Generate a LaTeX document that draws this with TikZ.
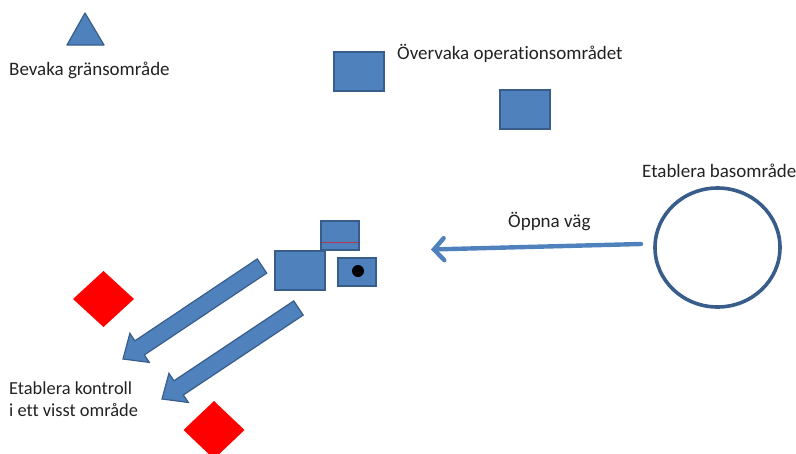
\documentclass[tikz,border=0pt]{standalone}
\usepackage{fontspec}
\setmainfont{Carlito}[Ligatures=NoCommon]
\usetikzlibrary{calc,arrows.meta}
\definecolor{ofill}{HTML}{4F81BD}
\definecolor{oline}{HTML}{385D8A}
\definecolor{ored}{HTML}{FF0000}
\definecolor{txt}{HTML}{222222}
\tikzset{
  bluebox/.style={draw=oline, fill=ofill, line width=1.2pt},
  lbl/.style={inner sep=0pt, font=\fontsize{19}{22}\selectfont, text=txt, align=left},
}
\begin{document}
\begin{tikzpicture}[x=1pt,y=-1pt]
\useasboundingbox (0,0) rectangle (796,453);
% triangle
\draw[bluebox, line join=round] (85,13) -- (67,45) -- (104,45) -- cycle;
\node (tri) at (85,35) {};
\node[lbl, anchor=base west] (bevaka) at (9,75) {Bevaka gränsområde};
% top boxes
\draw[bluebox] (334,52) rectangle (384,91);
\node (sq1) at (359,71.5) {};
\node[lbl, anchor=base west] (overvaka) at (397,59) {Övervaka operationsområdet};
\draw[bluebox] (500,90) rectangle (550,129);
\node (sq2) at (525,109.5) {};
% base circle
\draw[draw=oline, line width=3.6pt] (717.5,247.5) ellipse [x radius=62.5, y radius=59.5];
\coordinate (circ) at (717.5,247.5);
\node[lbl, anchor=base west] (etabas) at (642,177) {Etablera basområde};
% road arrow
\coordinate (roadS) at (641,244);
\coordinate (roadE) at (431,249.5);
\draw[draw=ofill, line width=4.4pt, line cap=round, -{Straight Barb[length=10pt, width=22pt, line cap=round]}] (roadS) -- (roadE);
\node[lbl, anchor=base west] (oppna) at (508,227) {Öppna väg};
% cluster boxes
\draw[bluebox] (321,221) rectangle (359,250);
\draw[draw=red!60!ofill, line width=1pt] (322,242) -- (358,242);
\draw[bluebox] (275,251) rectangle (325,290);
\node (bigbox) at (300,270.5) {};
\draw[bluebox] (338,258) rectangle (376,286);
\fill[black] (358,271) circle (6);
% red diamonds
\fill[ored] (103.5,271) -- (134,299) -- (103.5,327) -- (73,299) -- cycle;
\fill[ored] (214,401) -- (244.5,430) -- (214,459) -- (183.5,430) -- cycle;
% block arrows
\foreach \sx/\sy/\tx/\ty in {262/266/123/359, 298.5/308/162/399}{
  \coordinate (s) at (\sx,\sy);
  \coordinate (t) at (\tx,\ty);
  \coordinate (h) at ($(t)!20pt!(s)$);
  \draw[bluebox, line join=miter]
    ($(s)!8.5pt!90:(t)$) -- ($(h)!8.5pt!-90:(s)$) -- ($(h)!17.5pt!-90:(s)$) -- (t)
    -- ($(h)!17.5pt!90:(s)$) -- ($(h)!8.5pt!90:(s)$) -- ($(s)!8.5pt!-90:(t)$) -- cycle;
}
\node[lbl, anchor=base west, font=\fontsize{18.4}{22}\selectfont] (kontroll) at (9,416) {Etablera kontroll\\i ett visst område};
\end{tikzpicture}
\end{document}
